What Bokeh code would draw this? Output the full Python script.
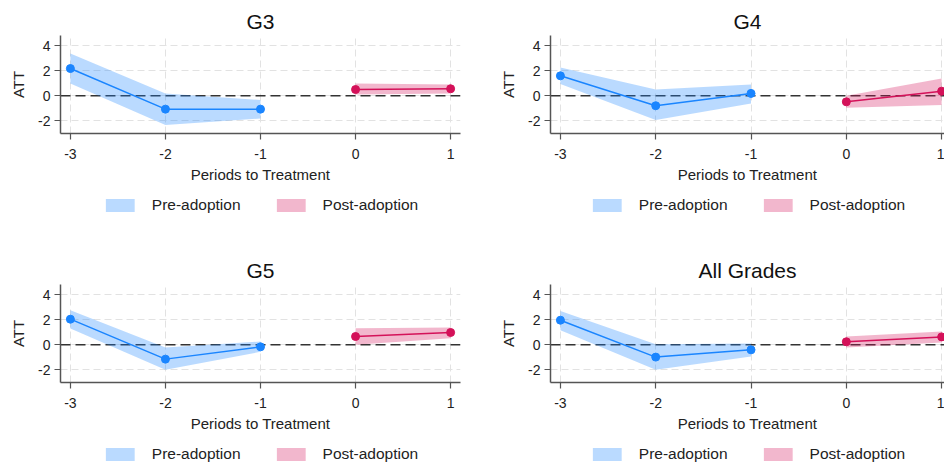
from bokeh.plotting import figure
from bokeh.models import Span, Legend, LegendItem, FixedTicker
from bokeh.layouts import column, row
from bokeh.embed import file_html
from bokeh.resources import INLINE

# ---------------- data ----------------
periods_pre = [-3, -2, -1]
periods_post = [0, 1]
x_ticks = [-3, -2, -1, 0, 1]
x_tick_labels = ["-3", "-2", "-1", "0", "1"]
y_ticks = [-2, 0, 2, 4]
y_tick_labels = ["-2", "0", "2", "4"]

panel_titles = ["G3", "G4", "G5", "All Grades"]
legend_labels = ["Pre-adoption", "Post-adoption"]

g3_pre_att = [2.17, -1.06, -1.06]
g3_pre_lo = [0.98, -2.33, -1.80]
g3_pre_hi = [3.36, 0.19, -0.34]
g3_post_att = [0.50, 0.56]
g3_post_lo = [0.11, 0.19]
g3_post_hi = [0.98, 0.90]

g4_pre_att = [1.59, -0.79, 0.19]
g4_pre_lo = [0.93, -1.93, -0.61]
g4_pre_hi = [2.25, 0.50, 0.90]
g4_post_att = [-0.48, 0.37]
g4_post_lo = [-0.95, -0.74]
g4_post_hi = [0.00, 1.38]

g5_pre_att = [2.04, -1.14, -0.16]
g5_pre_lo = [1.30, -1.98, -0.56]
g5_pre_hi = [2.75, -0.21, 0.26]
g5_post_att = [0.66, 0.98]
g5_post_lo = [0.00, 0.53]
g5_post_hi = [1.32, 1.38]

all_pre_att = [1.96, -0.98, -0.40]
all_pre_lo = [1.16, -1.98, -0.93]
all_pre_hi = [2.70, 0.05, 0.11]
all_post_att = [0.24, 0.63]
all_post_lo = [-0.21, 0.19]
all_post_hi = [0.66, 1.06]

# ---------------- style ----------------
FONT = "Liberation Sans"
PRE_COLOR = "#1a85ff"
POST_COLOR = "#d41159"
AXIS_COLOR = "#555555"
BAND_ALPHA = 0.3


def make_panel(title, pre_att, pre_lo, pre_hi, post_att, post_lo, post_hi,
               width, x_end, border_right):
    p = figure(width=width, height=190, output_backend="svg",
               toolbar_location=None, x_range=(-3.104, x_end),
               y_range=(-3.0, 4.8), min_border_left=60,
               min_border_right=border_right, min_border_top=35,
               min_border_bottom=57, title=title)
    p.outline_line_color = None
    p.background_fill_color = "white"
    p.border_fill_color = "white"

    p.title.align = "center"
    p.title.text_font = FONT
    p.title.text_font_size = "21px"
    p.title.text_font_style = "normal"
    p.title.text_color = "#111111"
    p.title.standoff = 6

    for ax in (p.xaxis[0], p.yaxis[0]):
        ax.axis_line_color = AXIS_COLOR
        ax.axis_line_width = 1.5
        ax.major_tick_line_color = AXIS_COLOR
        ax.major_tick_line_width = 1.2
        ax.major_tick_in = 0
        ax.major_tick_out = 6
        ax.minor_tick_line_color = None
        ax.major_label_text_font = FONT
        ax.major_label_text_font_size = "14px"
        ax.major_label_text_color = "#222222"
        ax.axis_label_text_font = FONT
        ax.axis_label_text_font_size = "15px"
        ax.axis_label_text_font_style = "normal"
        ax.axis_label_text_color = "#222222"

    p.xaxis.ticker = FixedTicker(ticks=x_ticks)
    p.xaxis.major_label_overrides = dict(zip(x_ticks, x_tick_labels))
    p.xaxis.axis_label = "Periods to Treatment"
    p.xaxis.major_label_standoff = 9
    p.xaxis.axis_label_standoff = 4

    p.yaxis.ticker = FixedTicker(ticks=y_ticks)
    p.yaxis.major_label_overrides = dict(zip(y_ticks, y_tick_labels))
    p.yaxis.axis_label = "ATT"
    p.yaxis.major_label_orientation = "horizontal"
    p.yaxis.major_label_standoff = 4
    p.yaxis.axis_label_standoff = 8

    for g in (p.xgrid[0], p.ygrid[0]):
        g.grid_line_color = "#e2e2e2"
        g.grid_line_width = 1
        g.grid_line_dash = "7 4"

    zero = Span(location=0, dimension="width", line_color="#333333",
                line_width=1.5, line_dash="10 5", level="underlay")
    p.add_layout(zero)

    p.varea(x=periods_pre, y1=pre_lo, y2=pre_hi,
            fill_color=PRE_COLOR, fill_alpha=BAND_ALPHA)
    p.varea(x=periods_post, y1=post_lo, y2=post_hi,
            fill_color=POST_COLOR, fill_alpha=BAND_ALPHA)
    p.line(periods_post, post_att, line_color=POST_COLOR, line_width=1.5)
    p.scatter(periods_post, post_att, size=8, fill_color=POST_COLOR,
              line_color=POST_COLOR)
    p.line(periods_pre, pre_att, line_color=PRE_COLOR, line_width=1.5)
    p.scatter(periods_pre, pre_att, size=8, fill_color=PRE_COLOR,
              line_color=PRE_COLOR)
    return p


def make_legend(width, height, border_left, border_right,
                pre_lo, pre_hi, post_lo, post_hi):
    # legend strip below a panel; its bands lie outside the strip's view,
    # only the legend swatches are seen
    lf = figure(width=width, height=height, output_backend="svg",
                toolbar_location=None, x_axis_location=None,
                y_axis_location=None, min_border_left=border_left,
                min_border_right=border_right, min_border_top=6,
                min_border_bottom=0, x_range=(10, 11), y_range=(10, 11))
    lf.outline_line_color = None
    lf.xgrid.visible = False
    lf.ygrid.visible = False
    lf.border_fill_color = "white"
    lf.background_fill_color = "white"
    r_pre = lf.varea(x=periods_pre, y1=pre_lo, y2=pre_hi,
                     fill_color=PRE_COLOR, fill_alpha=BAND_ALPHA)
    r_post = lf.varea(x=periods_post, y1=post_lo, y2=post_hi,
                      fill_color=POST_COLOR, fill_alpha=BAND_ALPHA)
    legend = Legend(items=[LegendItem(label=legend_labels[0], renderers=[r_pre]),
                           LegendItem(label=legend_labels[1], renderers=[r_post])],
                    orientation="horizontal", location="top_center",
                    glyph_width=36, glyph_height=16, label_height=15,
                    label_standoff=14, spacing=32, padding=0, margin=0,
                    label_text_font=FONT, label_text_font_size="15.5px",
                    label_text_color="#222222",
                    border_line_color=None, background_fill_alpha=0)
    lf.add_layout(legend, "center")
    return lf


p1 = make_panel(panel_titles[0], g3_pre_att, g3_pre_lo, g3_pre_hi,
                g3_post_att, g3_post_lo, g3_post_hi, 488, 1.104, 25)
p2 = make_panel(panel_titles[1], g4_pre_att, g4_pre_lo, g4_pre_hi,
                g4_post_att, g4_post_lo, g4_post_hi, 456, 1.030, 0)
p3 = make_panel(panel_titles[2], g5_pre_att, g5_pre_lo, g5_pre_hi,
                g5_post_att, g5_post_lo, g5_post_hi, 488, 1.104, 25)
p4 = make_panel(panel_titles[3], all_pre_att, all_pre_lo, all_pre_hi,
                all_post_att, all_post_lo, all_post_hi, 456, 1.030, 0)

l1 = make_legend(488, 59, 57, 28, g3_pre_lo, g3_pre_hi, g3_post_lo, g3_post_hi)
l2 = make_legend(456, 59, 62, 0, g4_pre_lo, g4_pre_hi, g4_post_lo, g4_post_hi)
l3 = make_legend(488, 25, 57, 28, g5_pre_lo, g5_pre_hi, g5_post_lo, g5_post_hi)
l4 = make_legend(456, 25, 62, 0, all_pre_lo, all_pre_hi, all_post_lo, all_post_hi)

layout = column(row(column(p1, l1), column(p2, l2)),
                row(column(p3, l3), column(p4, l4)))

open("out.html", "w").write(file_html(layout, INLINE))
